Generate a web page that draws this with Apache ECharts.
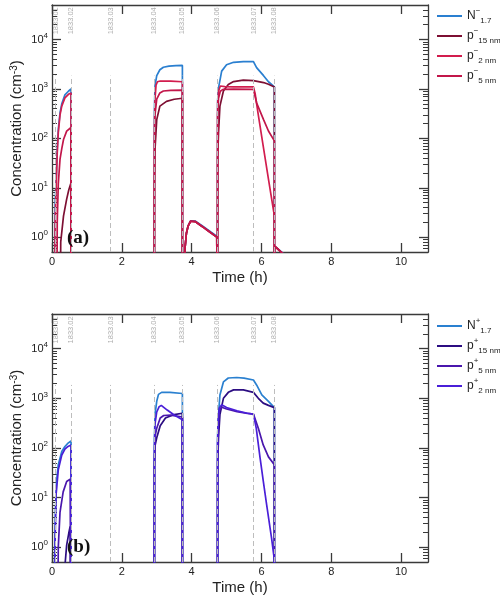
<!DOCTYPE html>
<html>
<head>
<meta charset="utf-8">
<script src="https://cdn.jsdelivr.net/npm/echarts@6/dist/echarts.min.js"></script>
<style>
  html, body { margin: 0; padding: 0; background: #fff; }
  #chart { width: 500px; height: 601px; }
</style>
</head>
<body>
<div id="chart"></div>
<script>
// [time (h), concentration (cm^-3)] ; 0.001 = below the axis (gap between runs)
const negN = [[0.065,0.001],[0.09,5],[0.12,15],[0.15,60],[0.18,150],[0.23,330],[0.28,500],[0.37,760],[0.47,900],[0.545,1000],[0.546,0.001],
  [2.93,0.001],[2.935,400],[2.95,1150],[3.0,1860],[3.09,2450],[3.19,2750],[3.35,2900],[3.55,2980],[3.735,3000],[3.736,0.001],
  [3.79,0.001],[3.81,0.6],[3.85,1.2],[3.9,1.7],[3.97,2.15],[4.02,2.25],[4.1,2.12],[4.3,1.7],[4.5,1.35],[4.72,1.05],[4.737,0.001],
  [4.738,0.001],[4.745,600],[4.77,1050],[4.86,2300],[5.0,3100],[5.2,3470],[5.48,3590],[5.77,3590],[5.86,2700],[6.06,1860],[6.2,1400],[6.37,1100],[6.371,0.001],
  [6.375,0.66],[6.5,0.56],[6.62,0.47]];
const negP15 = [[0.22,0.001],[0.25,0.8],[0.33,2.7],[0.42,5.9],[0.48,9],[0.545,12.6],[0.546,0.001],
  [2.93,0.001],[2.935,10],[2.95,60],[3.0,240],[3.09,450],[3.28,560],[3.5,620],[3.735,650],[3.736,0.001],
  [3.79,0.001],[3.81,0.6],[3.85,1.2],[3.9,1.7],[3.97,2.1],[4.02,2.2],[4.1,2.07],[4.3,1.65],[4.5,1.3],[4.72,1.0],[4.737,0.001],
  [4.738,0.001],[4.745,40],[4.77,130],[4.81,450],[4.91,910],[5.05,1230],[5.2,1410],[5.48,1510],[5.77,1480],[6.06,1350],[6.2,1250],[6.37,1100],[6.371,0.001],
  [6.375,0.66],[6.5,0.55],[6.62,0.46]];
const negP2 = [[0.06,0.001],[0.09,2],[0.12,11],[0.15,50],[0.18,130],[0.23,300],[0.28,450],[0.37,660],[0.47,780],[0.545,830],[0.546,0.001],
  [2.93,0.001],[2.935,200],[2.95,620],[2.98,1200],[3.02,1400],[3.1,1450],[3.4,1440],[3.735,1400],[3.736,0.001],
  [3.79,0.001],[3.81,0.6],[3.85,1.2],[3.9,1.7],[3.97,2.1],[4.02,2.2],[4.1,2.07],[4.3,1.65],[4.5,1.3],[4.72,1.0],[4.737,0.001],
  [4.738,0.001],[4.745,500],[4.77,900],[4.82,1150],[4.86,1180],[4.95,1120],[5.2,1100],[5.77,1100],[5.82,800],[5.9,330],[6.05,70],[6.2,15],[6.37,2.7],[6.371,0.001],
  [6.375,0.66],[6.5,0.55],[6.62,0.46]];
const negP5 = [[0.13,0.001],[0.15,2],[0.18,12],[0.23,38],[0.28,62],[0.33,95],[0.42,140],[0.545,166],[0.546,0.001],
  [2.93,0.001],[2.935,80],[2.95,300],[3.0,620],[3.09,830],[3.19,910],[3.4,940],[3.735,950],[3.736,0.001],
  [3.79,0.001],[3.81,0.6],[3.85,1.2],[3.9,1.7],[3.97,2.1],[4.02,2.2],[4.1,2.07],[4.3,1.65],[4.5,1.3],[4.72,1.0],[4.737,0.001],
  [4.738,0.001],[4.745,300],[4.77,650],[4.82,900],[4.9,980],[5.2,990],[5.77,980],[5.86,525],[6.06,240],[6.2,141],[6.37,89],[6.371,0.001],
  [6.375,0.66],[6.5,0.55],[6.62,0.46]];

const posN = [[0.06,0.001],[0.08,1],[0.1,6],[0.13,21],[0.18,46],[0.28,85],[0.37,107],[0.46,125],[0.545,138],[0.546,0.001],
  [2.93,0.001],[2.935,150],[2.95,470],[3.0,870],[3.05,1200],[3.14,1320],[3.38,1320],[3.735,1250],[3.736,0.001],
  [4.738,0.001],[4.745,200],[4.77,470],[4.81,1170],[4.91,2140],[5.05,2570],[5.29,2630],[5.5,2550],[5.77,2340],[5.86,1860],[6.01,1170],[6.2,870],[6.37,650],[6.371,0.001]];
const posP15 = [[0.34,0.001],[0.38,0.5],[0.42,1.1],[0.48,1.9],[0.52,2.6],[0.545,2.75],[0.546,0.001],
  [2.93,0.001],[2.935,40],[2.95,110],[3.0,160],[3.1,280],[3.25,400],[3.5,470],[3.735,500],[3.736,0.001],
  [4.738,0.001],[4.745,50],[4.77,160],[4.81,470],[4.91,1000],[5.05,1320],[5.2,1480],[5.48,1480],[5.77,1320],[5.91,1000],[6.05,800],[6.2,720],[6.37,650],[6.371,0.001]];
const posP5 = [[0.15,0.001],[0.18,1],[0.23,5.1],[0.32,13],[0.42,21],[0.52,23.5],[0.545,23.5],[0.546,0.001],
  [2.93,0.001],[2.935,60],[2.95,170],[3.0,250],[3.1,400],[3.2,450],[3.4,460],[3.735,420],[3.736,0.001],
  [4.738,0.001],[4.745,120],[4.77,380],[4.79,560],[4.86,660],[5.0,610],[5.3,540],[5.6,495],[5.77,480],[5.91,250],[6.05,115],[6.2,66],[6.37,46],[6.371,0.001]];
const posP2 = [[0.07,0.001],[0.09,1.5],[0.115,11],[0.18,36],[0.28,72],[0.37,95],[0.46,107],[0.545,115],[0.546,0.001],
  [2.93,0.001],[2.935,100],[2.95,300],[3.0,530],[3.07,680],[3.13,720],[3.3,580],[3.5,460],[3.735,370],[3.736,0.001],
  [4.738,0.001],[4.745,150],[4.77,400],[4.79,630],[4.86,740],[5.0,650],[5.3,560],[5.6,500],[5.77,480],[5.85,250],[5.96,63],[6.05,22],[6.15,7],[6.29,1.5],[6.37,0.55],[6.371,0.001]];

// run boundaries
const eventTimes = [0.1, 0.545, 1.68, 2.93, 3.735, 4.737, 5.77, 6.37];
const eventNames = ['1833.01','1833.02','1833.03','1833.04','1833.05','1833.06','1833.07','1833.08'];
const eventLineTop = 1860;
const eventLabelLevel = 24000;

const xTicks = [0, 2, 4, 6, 8, 10];
const yDecades = [0, 1, 2, 3, 4];

const negNames = ['N-1.7', 'p-15', 'p-2', 'p-5'];
const posNames = ['N+1.7', 'p+15', 'p+5', 'p+2'];
const legendText = {
  'N-1.7': 'N{sup|−}{sub|1.7}', 'p-15': 'p{sup|−}{sub|15 nm}', 'p-2': 'p{sup|−}{sub|2 nm}', 'p-5': 'p{sup|−}{sub|5 nm}',
  'N+1.7': 'N{sup|+}{sub|1.7}', 'p+15': 'p{sup|+}{sub|15 nm}', 'p+5': 'p{sup|+}{sub|5 nm}', 'p+2': 'p{sup|+}{sub|2 nm}'
};

const Y_MIN = -0.3, Y_MAX = 4.7, X_MAX = 10.77;
const FONT = 'Liberation Sans';
const AX = '#3a3a3a';

const minorTicks = [];
for (let d = -1; d <= 4; d++) {
  for (let k = 2; k <= 9; k++) {
    const v = Math.log10(k) + d;
    if (v >= Y_MIN && v <= Y_MAX) minorTicks.push(v);
  }
}

const chart = echarts.init(document.getElementById('chart'));

const grids = [
  { left: 52, top: 5, width: 376, height: 247, outerBoundsMode: 'none' },
  { left: 52, top: 314, width: 376, height: 248, outerBoundsMode: 'none' }
];

const xAxes = [], yAxes = [];
grids.forEach((g, gi) => {
  xAxes.push({
    gridIndex: gi, type: 'value', min: 0, max: X_MAX, position: 'bottom',
    name: 'Time (h)', nameLocation: 'middle', nameGap: 18,
    nameTextStyle: { fontSize: 15, color: '#222', fontFamily: FONT },
    axisLine: { onZero: false, lineStyle: { color: AX, width: 1.3 } },
    axisTick: { inside: true, length: 9, customValues: xTicks, lineStyle: { color: AX, width: 1.3 } },
    axisLabel: { customValues: xTicks, fontSize: 11, color: '#222', margin: 4, fontFamily: FONT },
    splitLine: { show: false }
  });
  xAxes.push({
    gridIndex: gi, type: 'value', min: 0, max: X_MAX, position: 'top',
    axisLine: { onZero: false, lineStyle: { color: AX, width: 1.3 } },
    axisTick: { inside: true, length: 9, customValues: xTicks, lineStyle: { color: AX, width: 1.3 } },
    axisLabel: { show: false },
    splitLine: { show: false }
  });
  ['left', 'right'].forEach(side => {
    yAxes.push({
      gridIndex: gi, type: 'value', min: Y_MIN, max: Y_MAX, position: side,
      name: side === 'left' ? 'Concentration (cm{sup|-3})' : '',
      nameLocation: 'middle', nameGap: 28, nameMoveOverlap: false,
      nameTextStyle: {
        fontSize: 15, color: '#222', fontFamily: FONT,
        rich: { sup: { fontSize: 10, verticalAlign: 'top', lineHeight: 6, fontFamily: FONT, color: '#222' } }
      },
      axisLine: { show: true, onZero: false, lineStyle: { color: AX, width: 1.3 } },
      axisTick: { inside: true, length: 9, customValues: yDecades, lineStyle: { color: AX, width: 1.3 } },
      axisLabel: {
        show: side === 'left', customValues: yDecades, margin: 4, fontSize: 11, color: '#222', fontFamily: FONT,
        lineHeight: 16,
        formatter: v => '10{sup|' + Math.round(v) + '}',
        rich: { sup: { fontSize: 8, verticalAlign: 'top', lineHeight: 5, color: '#222', fontFamily: FONT } }
      },
      splitLine: { show: false }
    });
    yAxes.push({
      gridIndex: gi, type: 'value', min: Y_MIN, max: Y_MAX, position: side,
      axisLine: { show: false, onZero: false },
      axisTick: { inside: true, length: 5, customValues: minorTicks, lineStyle: { color: AX, width: 1 } },
      axisLabel: { show: false },
      splitLine: { show: false }
    });
  });
});

function curve(name, pts, color, gi) {
  return {
    name, type: 'line', xAxisIndex: gi * 2, yAxisIndex: gi * 4,
    data: pts.map(p => [p[0], Math.log10(p[1])]),
    symbol: 'none', clip: true, z: 2,
    lineStyle: { color, width: 1.7 }, itemStyle: { color }
  };
}

function events(gi) {
  return {
    type: 'scatter', xAxisIndex: gi * 2, yAxisIndex: gi * 4, z: 5, silent: true,
    symbolSize: 1, itemStyle: { color: 'rgba(0,0,0,0)' },
    data: eventTimes.map(t => [t, Math.log10(eventLabelLevel)]),
    label: {
      show: true, position: 'inside', rotate: 90, fontSize: 7.5, color: '#9a9a9a', fontFamily: FONT,
      formatter: p => eventNames[p.dataIndex]
    },
    markLine: {
      silent: true, symbol: ['none', 'none'], animation: false,
      label: { show: false },
      lineStyle: { color: '#bdbdbd', type: [5, 3], width: 1 },
      data: eventTimes.map(t => [{ coord: [t, Y_MIN] }, { coord: [t, Math.log10(eventLineTop)] }])
    }
  };
}

const negColors = ['#2a7fd0', '#7d0f33', '#d21d4e', '#c2164a'];
const posColors = ['#2a80d0', '#2c0d82', '#4a17ad', '#4a1fd8'];
const negData = [negN, negP15, negP2, negP5];
const posData = [posN, posP15, posP5, posP2];

const series = [];
negNames.forEach((n, i) => series.push(curve(n, negData[i], negColors[i], 0)));
series.push(events(0));
posNames.forEach((n, i) => series.push(curve(n, posData[i], posColors[i], 1)));
series.push(events(1));

const legendRich = {
  sup: { fontSize: 8, verticalAlign: 'top', lineHeight: 8, color: '#222', fontFamily: FONT },
  sub: { fontSize: 8, verticalAlign: 'bottom', lineHeight: 8, color: '#222', fontFamily: FONT }
};
function legend(names, top) {
  return {
    data: names, orient: 'vertical', left: 437, top, padding: 0,
    icon: 'rect', itemWidth: 25, itemHeight: 2, itemGap: 2,
    formatter: n => legendText[n],
    textStyle: { fontSize: 12, color: '#222', fontFamily: FONT, lineHeight: 18, rich: legendRich }
  };
}

chart.setOption({
  animation: false,
  backgroundColor: '#fff',
  textStyle: { fontFamily: FONT },
  title: [
    { text: '(a)', left: 67, top: 229, padding: 0, textStyle: { fontFamily: 'Liberation Serif', fontWeight: 'bold', fontSize: 19, color: '#111' } },
    { text: '(b)', left: 67, top: 538, padding: 0, textStyle: { fontFamily: 'Liberation Serif', fontWeight: 'bold', fontSize: 19, color: '#111' } }
  ],
  legend: [legend(negNames, 7), legend(posNames, 317)],
  grid: grids,
  xAxis: xAxes,
  yAxis: yAxes,
  series
});
</script>
</body>
</html>
